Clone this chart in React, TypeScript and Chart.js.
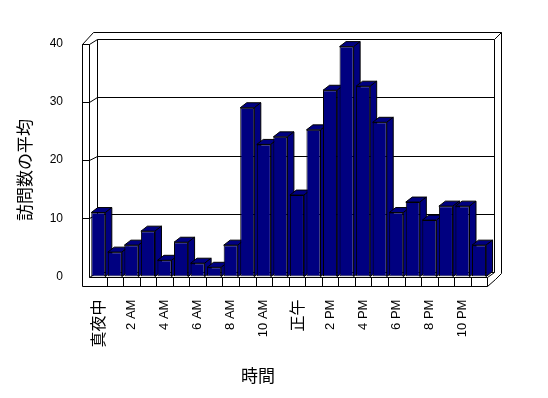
import React, { useEffect, useRef } from "react";
import { Chart, registerables } from "chart.js";

Chart.register(...registerables);

const categories = [
  "真夜中", "1 AM", "2 AM", "3 AM", "4 AM", "5 AM", "6 AM", "7 AM", "8 AM", "9 AM", "10 AM", "11 AM",
  "正午", "1 PM", "2 PM", "3 PM", "4 PM", "5 PM", "6 PM", "7 PM", "8 PM", "9 PM", "10 PM", "11 PM",
];
const visits = [
  11, 4.2, 5.4, 7.8, 2.8, 5.9, 2.3, 1.6, 5.4, 29, 22.7, 24,
  14, 25.2, 32, 39.5, 32.7, 26.5, 11, 12.8, 9.7, 12.1, 12.1, 5.4,
];
const yTickValues = [0, 10, 20, 30, 40];
const xTitle = "時間";
const yTitle = "訪問数の平均";

const NAVY = "#000080";
const LATIN = '"Liberation Sans", Arial, sans-serif';
const CJK = '"Noto Sans CJK JP", sans-serif';

const px = (v: number) => Math.round(v) + 0.5;

const threeD = {
  id: "threeD",
  beforeDatasetsDraw(chart: any) {
    const { ctx, chartArea } = chart;
    const yScale = chart.scales.y;
    const L = chartArea.left;
    const R = chartArea.right;
    const T = chartArea.top;
    const B = chartArea.bottom;
    const DX = 6.6;
    const DY = -4.6;
    const WL = L - 8;
    const WI = L - 1;
    const FT = B + 0.7;
    const FB = B + 9.4;
    const TO = T + DY - 7;
    const RO = R + DX + 7;
    ctx.save();
    ctx.strokeStyle = "#000";
    ctx.lineWidth = 1;
    const line = (pts: number[][]) => {
      ctx.beginPath();
      ctx.moveTo(px(pts[0][0]), px(pts[0][1]));
      for (let i = 1; i < pts.length; i++) ctx.lineTo(px(pts[i][0]), px(pts[i][1]));
      ctx.stroke();
    };
    // walls
    line([[WL, FB], [WL, T], [WI, T]]);
    line([[WI, T], [WI, FT]]);
    line([[WL, T], [WL + 11, TO], [RO, TO], [RO, B + DY + 1]]);
    line([[R + DX, T + DY], [RO, TO]]);
    line([[R + DX, T + DY], [R + DX, B + DY]]);
    line([[L + DX, T + DY], [L + DX, B + DY]]);
    // gridlines
    yTickValues.forEach((v) => {
      const yF = v === 0 ? B : yScale.getPixelForValue(v);
      if (v !== 0) line([[WL, yF], [WI, yF]]);
      line([[WI, v === 0 ? FT : yF], [L + DX, yF + DY], [R + DX, yF + DY]]);
    });
    // floor
    line([[WI, FT], [R, FT], [R, FB]]);
    line([[WL, FB], [R, FB]]);
    const n = categories.length;
    const w = (R - L) / n;
    for (let k = 1; k < n; k++) line([[L + k * w, FT], [L + k * w, FB]]);
    line([[R, FT], [R + DX, B + DY]]);
    line([[R, FB], [R + DX + 1, FB + DY - 2], [RO, B + DY + 1]]);

    // bar depth faces
    const BDX = 6.5;
    const BDY = -5;
    const meta = chart.getDatasetMeta(0);
    ctx.fillStyle = NAVY;
    meta.data.forEach((el: any) => {
      const { x, y, base, width } = el.getProps(["x", "y", "base", "width"], true);
      const l = x - width / 2;
      const r = x + width / 2;
      ctx.beginPath();
      ctx.moveTo(l, y);
      ctx.lineTo(l + BDX, y + BDY);
      ctx.lineTo(r + BDX, y + BDY);
      ctx.lineTo(r, y);
      ctx.closePath();
      ctx.fill();
      ctx.stroke();
      ctx.beginPath();
      ctx.moveTo(r, y);
      ctx.lineTo(r + BDX, y + BDY);
      ctx.lineTo(r + BDX, base + BDY);
      ctx.lineTo(r, base);
      ctx.closePath();
      ctx.fill();
      ctx.stroke();
    });
    ctx.restore();
  },
  afterDraw(chart: any) {
    const { ctx } = chart;
    ctx.save();
    ctx.fillStyle = "#000";
    ctx.font = `17px ${CJK}`;
    ctx.textAlign = "center";
    ctx.textBaseline = "middle";
    ctx.fillText(xTitle, 258, 376);
    ctx.translate(25, 170);
    ctx.rotate(-Math.PI / 2);
    ctx.fillText(yTitle, 0, 0);
    ctx.restore();
  },
};

export default function App() {
  const ref = useRef<HTMLCanvasElement>(null);
  useEffect(() => {
    document.body.style.margin = "0";
    const chart = new Chart(ref.current as HTMLCanvasElement, {
      type: "bar",
      data: {
        labels: categories,
        datasets: [
          {
            label: yTitle,
            data: visits,
            backgroundColor: NAVY,
            borderColor: "#000",
            borderWidth: 1,
            borderSkipped: false,
            barPercentage: 1,
            categoryPercentage: 0.85,
          },
        ],
      },
      options: {
        animation: false,
        responsive: false,
        maintainAspectRatio: false,
        layout: { padding: { top: 43.7, right: 60.7, left: 0, bottom: 0 } },
        plugins: { legend: { display: false }, tooltip: { enabled: false } },
        scales: {
          x: {
            type: "category",
            offset: true,
            grid: { display: false, drawTicks: false },
            border: { display: false },
            ticks: {
              autoSkip: false,
              maxRotation: 90,
              minRotation: 90,
              padding: 23,
              color: "#000",
              callback: (_v: any, i: number) => (i % 2 === 0 ? categories[i] : ""),
              font: (c: any) =>
                /[^\x00-\x7F]/.test(categories[c.index] || "")
                  ? { family: CJK, size: 16 }
                  : { family: LATIN, size: 13 },
            },
            afterFit: (s: any) => {
              s.height = 121.4;
            },
          },
          y: {
            min: 0,
            max: 40,
            grid: { display: false, drawTicks: false },
            border: { display: false },
            ticks: {
              stepSize: 10,
              padding: 27,
              color: "#000",
              font: { family: LATIN, size: 12 },
            },
            afterFit: (s: any) => {
              s.width = 90;
            },
          },
        },
      },
      plugins: [threeD],
    });
    return () => chart.destroy();
  }, []);
  return (
    <canvas
      ref={ref}
      width={548}
      height={398}
      style={{ display: "block", width: 548, height: 398 }}
    />
  );
}
